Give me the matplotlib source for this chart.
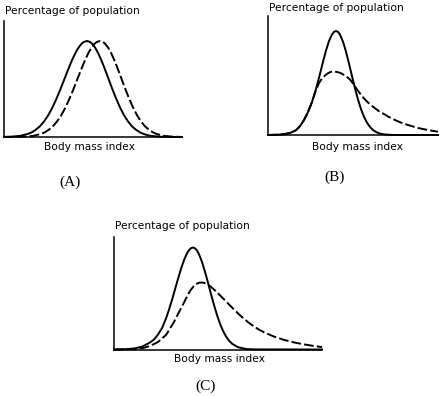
import matplotlib
matplotlib.use("Agg")
import matplotlib.pyplot as plt

# curve readings: x = distance from y-axis, y = height above baseline (pixel units of the reference)
a_solid_x = [0, 8, 16, 24, 28, 32, 36, 40, 44, 48, 52, 56, 60, 64, 68, 72, 75, 78, 80, 83, 86, 88, 91, 94,
             97, 100, 104, 108, 112, 116, 120, 124, 128, 132, 136, 140, 144, 148, 156, 164, 178]
a_solid_y = [0.1, 0.4, 1.1, 3.1, 4.8, 7.4, 10.8, 15.5, 21.4, 28.6, 37.2, 46.7, 56.9, 67.1, 76.9, 85.2, 90.1,
             93.7, 95.1, 96, 95.1, 93.4, 89.6, 84.2, 77.6, 70.2, 59.6, 48.8, 38.7, 29.6, 21.8, 15.6, 10.7,
             7.2, 4.6, 2.9, 1.7, 1.0, 0.3, 0.1, 0]
a_dash_x = [0, 13, 21, 29, 37, 41, 45, 49, 53, 57, 61, 65, 69, 73, 77, 81, 85, 88, 91, 93, 96, 99, 101, 104,
            107, 110, 113, 117, 121, 125, 129, 133, 137, 141, 145, 149, 153, 157, 161, 169, 177]
a_dash_y = [0, 0.1, 0.4, 1.1, 3.1, 4.8, 7.4, 10.8, 15.5, 21.4, 28.6, 37.2, 46.7, 56.9, 67.1, 76.9, 85.2, 90.1,
            93.7, 95.1, 96, 95.1, 93.4, 89.6, 84.2, 77.6, 70.2, 59.6, 48.8, 38.7, 29.6, 21.8, 15.6, 10.7,
            7.2, 4.6, 2.9, 1.7, 1.0, 0.3, 0.1]

b_solid_x = [0, 10, 16, 22, 28, 32, 36, 40, 44, 48, 52, 55, 58, 61, 64, 66, 68, 70, 72, 75, 78, 81, 84, 87,
             90, 93, 96, 99, 102, 105, 108, 112, 116, 124, 132, 170]
b_solid_y = [0, 0.3, 0.8, 2.0, 4.8, 8.8, 15, 23, 33, 46, 61, 73.2, 84.5, 93.9, 100.6, 103.1, 104, 103.1,
             100.4, 93.3, 83.3, 71.4, 58.9, 46.6, 35.5, 25.9, 18.2, 12.3, 8.0, 5.0, 3.0, 1.4, 0.6, 0.1, 0, 0]
b_dash_x = [0, 10, 16, 22, 28, 32, 36, 40, 44, 48, 51, 54, 57, 60, 63, 65, 67, 70, 73, 76, 79, 82, 85, 88,
            92, 96, 100, 104, 108, 112, 116, 120, 124, 128, 132, 136, 140, 145, 150, 155, 160, 165, 170]
b_dash_y = [0, 0.3, 0.8, 2.0, 4.8, 8.8, 15, 23, 33, 45, 52, 56.5, 59.5, 61.8, 63.2, 63.5, 63.4, 62.8, 61.8,
            60, 58, 55.5, 51.5, 47, 41.5, 36.5, 32.5, 29, 26, 23, 21, 18.5, 16.5, 14.5, 12.8, 11.2, 10, 8.5,
            7, 6, 5, 4.1, 3.3]

c_solid_x = [0, 12, 20, 28, 36, 40, 44, 48, 52, 55, 58, 61, 64, 67, 70, 73, 75, 77, 79, 81, 83, 85, 88, 91,
             94, 97, 100, 103, 106, 109, 112, 115, 118, 124, 132, 140, 208]
c_solid_y = [0, 0.3, 1.0, 2.8, 7, 10, 15, 21.3, 31, 39.8, 49.6, 60.1, 70.6, 80.6, 89.4, 96.2, 99.4, 101.3,
             102, 101.2, 99, 95.3, 87.6, 77.8, 66.8, 55.4, 44.5, 34.5, 25.8, 18.7, 13.1, 8.9, 5.8, 2.3, 0.5,
             0.1, 0]
c_dash_x = [0, 20, 28, 36, 44, 52, 60, 64, 68, 72, 76, 79, 82, 85, 88, 91, 94, 97, 100, 104, 108, 112, 116,
            120, 125, 130, 135, 140, 145, 150, 160, 170, 180, 190, 200, 208]
c_dash_y = [0, 0.2, 1.2, 3.5, 7.5, 14.5, 27.5, 35.5, 43, 51, 58.5, 62.5, 65.3, 66.8, 67, 66.3, 64.8, 62.6, 60,
            56.2, 52.2, 48.1, 44, 40, 35.2, 30.7, 26.6, 23, 19.9, 17.2, 12.9, 9.6, 7.1, 5.1, 3.5, 2.4]

W, H = 443, 396
fig = plt.figure(figsize=(W / 100, H / 100), dpi=100)
fig.patch.set_facecolor("white")


def make_axes(left, top, right, bottom):
    ax = fig.add_axes([left / W, 1 - bottom / H, (right - left) / W, (bottom - top) / H])
    ax.set_xlim(0, right - left)
    ax.set_ylim(0, bottom - top)
    for side in ["top", "right"]:
        ax.spines[side].set_visible(False)
    for side in ["left", "bottom"]:
        ax.spines[side].set_linewidth(1.1)
        ax.spines[side].set_color("black")
    ax.set_xticks([])
    ax.set_yticks([])
    ax.patch.set_alpha(0)
    return ax


def draw(ax, sx, sy, dx, dy):
    ax.plot(sx, sy, color="black", lw=1.4, solid_joinstyle="round", clip_on=False)
    ax.plot(dx, dy, color="black", lw=1.4, linestyle=(0, (5, 1.6)), clip_on=False)


def label(x, y, s, **kw):
    fig.text(x / W, 1 - y / H, s, **kw)


ax_a = make_axes(4, 21, 182, 137)
draw(ax_a, a_solid_x, a_solid_y, a_dash_x, a_dash_y)
ax_b = make_axes(268, 16, 438, 135)
draw(ax_b, b_solid_x, b_solid_y, b_dash_x, b_dash_y)
ax_c = make_axes(114, 237, 322, 349.5)
draw(ax_c, c_solid_x, c_solid_y, c_dash_x, c_dash_y)

txt = dict(fontsize=7.7, family="DejaVu Sans", va="center")
label(5, 11, "Percentage of population", ha="left", **txt)
label(269, 8, "Percentage of population", ha="left", **txt)
label(115, 226, "Percentage of population", ha="left", **txt)
label(89, 147.5, "Body mass index", ha="center", **txt)
label(357, 147, "Body mass index", ha="center", **txt)
label(219, 358.5, "Body mass index", ha="center", **txt)

ser = dict(fontsize=11, family="Liberation Serif", va="center", ha="center")
label(70, 182, "(A)", **ser)
label(335, 177, "(B)", **ser)
label(206, 386, "(C)", **ser)

fig.savefig("out.png", dpi=100)
